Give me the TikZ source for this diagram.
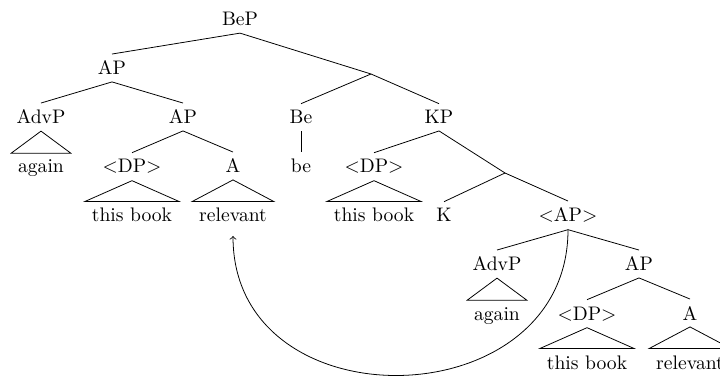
\documentclass[tikz,border=0pt]{standalone}
\begin{document}
\begin{tikzpicture}[x=0.51pt,y=-0.51pt,
  tn/.style={anchor=base,inner sep=3.33pt},
  edge/.style={line width=0.4pt},
  movearrow/.style={->,line width=0.4pt}]
\useasboundingbox (0,0) rectangle (720,380);
% row 1
\node[tn] (BeP) at (240,26) {BeP};
% row 2
\node[tn] (AP1) at (112,75) {AP};
\coordinate (m1) at (371,74);
% row 3
\node[tn] (AdvP1) at (41,124) {AdvP};
\node[tn] (AP2) at (183,124) {AP};
\node[tn] (Be) at (301,124) {Be};
\node[tn] (KP) at (439,124) {KP};
% row 4
\node[tn] (again1) at (41,173) {again};
\node[tn] (DP1) at (132,173) {$<$DP$>$};
\node[tn] (A1) at (233,173) {A};
\node[tn] (be) at (301,173) {be};
\node[tn] (DP2) at (374,173) {$<$DP$>$};
\coordinate (m2) at (505,173);
% row 5
\node[tn] (book1) at (132,222) {this book};
\node[tn] (rel1) at (233,222) {relevant};
\node[tn] (book2) at (374,222) {this book};
\node[tn] (K) at (444,222) {K};
\node[tn] (AP3) at (568,222) {$<$AP$>$};
% row 6
\node[tn] (AdvP2) at (497,271) {AdvP};
\node[tn] (AP4) at (639,271) {AP};
% row 7
\node[tn] (again2) at (497,320) {again};
\node[tn] (DP3) at (587,320) {$<$DP$>$};
\node[tn] (A2) at (690,320) {A};
% row 8
\node[tn] (book3) at (587,369) {this book};
\node[tn] (rel2) at (690,369) {relevant};

% edges
\draw[edge] (BeP.south) -- (AP1.north);
\draw[edge] (BeP.south) -- (m1);
\draw[edge] (AP1.south) -- (AdvP1.north);
\draw[edge] (AP1.south) -- (AP2.north);
\draw[edge] (m1) -- (Be.north);
\draw[edge] (m1) -- (KP.north);
\draw[edge] (AP2.south) -- (DP1.north);
\draw[edge] (AP2.south) -- (A1.north);
\draw[edge] (Be.south) -- (be.north);
\draw[edge] (KP.south) -- (DP2.north);
\draw[edge] (KP.south) -- (m2);
\draw[edge] (m2) -- (K.north);
\draw[edge] (m2) -- (AP3.north);
\draw[edge] (AP3.south) -- (AdvP2.north);
\draw[edge] (AP3.south) -- (AP4.north);
\draw[edge] (AP4.south) -- (DP3.north);
\draw[edge] (AP4.south) -- (A2.north);
% triangles
\draw[edge] (AdvP1.south) -- (again1.north west) -- (again1.north east) -- cycle;
\draw[edge] (DP1.south) -- (book1.north west) -- (book1.north east) -- cycle;
\draw[edge] (A1.south) -- (rel1.north west) -- (rel1.north east) -- cycle;
\draw[edge] (DP2.south) -- (book2.north west) -- (book2.north east) -- cycle;
\draw[edge] (AdvP2.south) -- (again2.north west) -- (again2.north east) -- cycle;
\draw[edge] (DP3.south) -- (book3.north west) -- (book3.north east) -- cycle;
\draw[edge] (A2.south) -- (rel2.north west) -- (rel2.north east) -- cycle;
% movement arrow
\draw[movearrow] (AP3.south) .. controls +(0,190) and +(0,190) .. ([yshift=-3.5pt]rel1.south);
\end{tikzpicture}
\end{document}
